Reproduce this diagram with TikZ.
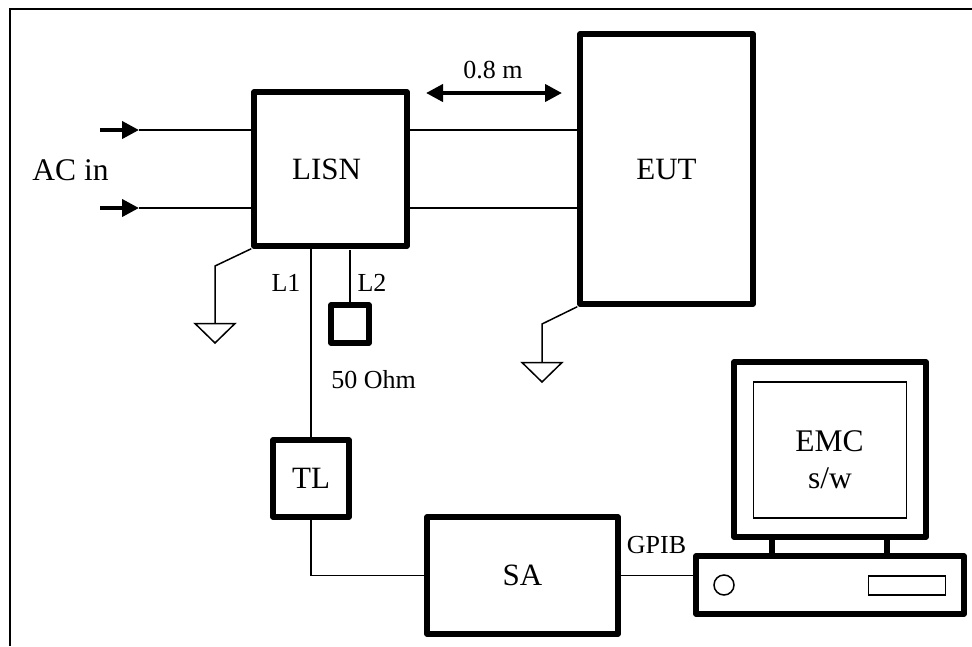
\documentclass[tikz,border=0pt]{standalone}
\usepackage{fontspec}
\setmainfont{Liberation Serif}
\usetikzlibrary{arrows.meta}
\tikzset{
 x=1pt,y=-1pt,
 thin line/.style={draw=black,line width=1.5pt,line join=miter},
 frame line/.style={draw=black,line width=2.4pt},
 box line/.style={draw=black,line width=5.5pt,line join=round,inner sep=0pt},
 base box/.style={box line,rectangle},
 lbl/.style={font=\fontsize{31}{31}\selectfont,inner sep=0pt},
 small lbl/.style={font=\fontsize{26}{26}\selectfont,inner sep=0pt,anchor=base},
 big lbl/.style={font=\fontsize{31.5}{31.5}\selectfont,inner sep=0pt,anchor=base},
 inarrow/.style={draw=black,line width=4pt,-{Triangle[length=17pt,width=17pt]}},
 dim arrow/.style={draw=black,line width=4pt,{Triangle[length=17pt,width=17pt]}-{Triangle[length=17pt,width=17pt]}},
}
\begin{document}
\begin{tikzpicture}
\useasboundingbox (0,0) rectangle (972,646);
\draw[frame line] (10,646) -- (10,9) -- (972,9);
% boxes
\node[box line,minimum width=153pt,minimum height=154pt,lbl] (lisn) at (330.5,169) {LISN\kern8pt};
\node[box line,minimum width=173pt,minimum height=270pt,lbl] (eut) at (666.5,169) {EUT};
\node[box line,minimum width=38pt,minimum height=38pt] (ohm) at (350,324) {};
\node[box line,minimum width=76pt,minimum height=77pt,lbl] (tl) at (311,478.5) {TL};
\node[box line,minimum width=191pt,minimum height=117pt,lbl] (sa) at (522.5,575.5) {SA};
\node[box line,minimum width=192pt,minimum height=175pt] (mon) at (830,449.5) {};
\node[box line,minimum width=268pt,minimum height=58pt] (pc) at (830,585) {};
\node[thin line,minimum width=153pt,minimum height=136pt,inner sep=0pt,outer sep=0pt] (scr) at (830,450) {};
\node[thin line,circle,minimum size=20pt,inner sep=0pt,outer sep=0pt] (knob) at (724,585) {};
\node[thin line,minimum width=77pt,minimum height=19pt,inner sep=0pt,outer sep=0pt] (slot) at (907,585.5) {};
% free ends
\coordinate (a1) at (100,130); \coordinate (a1h) at (139,130);
\coordinate (a2) at (100,208); \coordinate (a2h) at (139,208);
\coordinate (g1) at (215,266); \coordinate (g1t) at (215,323.5);
\coordinate (g1l) at (195,323.5); \coordinate (g1r) at (235,323.5); \coordinate (g1a) at (215,343);
\coordinate (g2) at (542,324); \coordinate (g2t) at (542,362.5);
\coordinate (g2l) at (522,362.5); \coordinate (g2r) at (562,362.5); \coordinate (g2a) at (542,382);
\coordinate (d1) at (426,93); \coordinate (d2) at (562,93);
\coordinate (sL) at (772,540); \coordinate (sR) at (887,540);
\coordinate (l2a) at (350,250);
% connectors
\draw[inarrow] (a1) -- (a1h);
\draw[inarrow] (a2) -- (a2h);
\draw[thin line] (a1h) -- (a1h -| lisn.west);
\draw[thin line] (a2h) -- (a2h -| lisn.west);
\draw[thin line] (a1h -| lisn.east) -- (a1h -| eut.west);
\draw[thin line] (a2h -| lisn.east) -- (a2h -| eut.west);
\draw[thin line] (lisn.south west) -- (g1) -- (g1t);
\draw[thin line,line join=miter] (g1l) -- (g1r) -- (g1a) -- cycle;
\draw[thin line] (eut.south west) -- (g2) -- (g2t);
\draw[thin line,line join=miter] (g2l) -- (g2r) -- (g2a) -- cycle;
\draw[thin line] (lisn.south -| tl.north) -- (tl.north);
\draw[thin line] (l2a) -- (ohm.north);
\draw[thin line] (tl.south) |- (sa.west);
\draw[thin line] (sa.east) -- (sa.east -| pc.west);
\draw[dim arrow] (d1) -- (d2);
\draw[draw=black,line width=5.5pt] (sL |- mon.south) -- (sL |- pc.north);
\draw[draw=black,line width=5.5pt] (sR |- mon.south) -- (sR |- pc.north);
% labels
\node[big lbl] (lac) at (70.5,180) {AC in};
\node[small lbl] (l08) at (493,78) {0.8 m};
\node[small lbl] (ll1) at (286,291) {L1};
\node[small lbl] (ll2) at (372,291) {L2};
\node[small lbl] (l50) at (373.5,388) {50 Ohm};
\node[small lbl] (lgp) at (656.5,553) {GPIB};
\node[big lbl] (lem) at (829.5,451) {EMC};
\node[big lbl] (lsw) at (830,488) {s/w};
\end{tikzpicture}
\end{document}
